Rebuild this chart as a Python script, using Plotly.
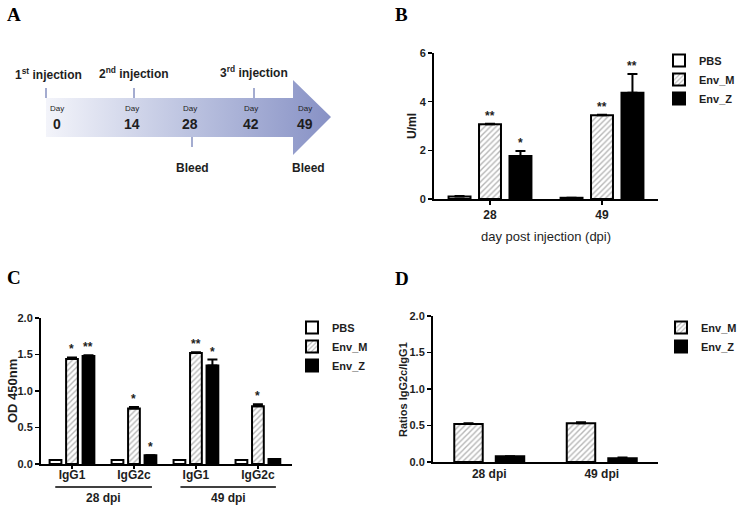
import plotly.graph_objects as go

W, H = 737, 507
FONT = "Liberation Sans, Arial, sans-serif"
SERIF = "Liberation Serif, Times New Roman, serif"
TXT = "#1e1e1e"

# ---------------- data ----------------
# Panel A timeline
timeline_days = ["0", "14", "28", "42", "49"]
injection_labels = ["1<sup>st</sup> injection", "2<sup>nd</sup> injection", "3<sup>rd</sup> injection"]
bleed_labels = ["Bleed", "Bleed"]

# Panel B: total antibody (U/ml)
b_categories = ["28", "49"]
b_pbs = [0.10, 0.05]
b_pbs_err = [0.02, 0.0]
b_envm = [3.07, 3.44]
b_envm_err = [0.02, 0.02]
b_envz = [1.77, 4.37]
b_envz_err = [0.20, 0.77]
b_stars_pbs = ["", ""]
b_stars_envm = ["**", "**"]
b_stars_envz = ["*", "**"]

# Panel C: IgG subclasses (OD 450nm)
c_categories = ["IgG1", "IgG2c", "IgG1", "IgG2c"]
c_groups = ["28 dpi", "49 dpi"]
c_pbs = [0.055, 0.055, 0.055, 0.055]
c_pbs_err = [0.0, 0.0, 0.0, 0.0]
c_envm = [1.44, 0.76, 1.52, 0.79]
c_envm_err = [0.02, 0.02, 0.01, 0.03]
c_envz = [1.48, 0.12, 1.35, 0.07]
c_envz_err = [0.01, 0.0, 0.08, 0.0]
c_stars_pbs = ["", "", "", ""]
c_stars_envm = ["*", "*", "**", "*"]
c_stars_envz = ["**", "*", "*", ""]

# Panel D: IgG2c/IgG1 ratio
d_categories = ["28 dpi", "49 dpi"]
d_envm = [0.52, 0.53]
d_envm_err = [0.01, 0.015]
d_envz = [0.08, 0.05]
d_envz_err = [0.0, 0.01]

# ---------------- helpers ----------------
def px(x):
    return x / W

def py(y):
    return 1 - y / H

HATCH = dict(shape="/", fgcolor="#6e6e6e", bgcolor="white", size=4, solidity=0.35, fillmode="overlay")
STYLES = {
    "PBS": dict(color="white", pattern=None),
    "Env_M": dict(color="white", pattern=HATCH),
    "Env_Z": dict(color="black", pattern=None),
}

fig = go.Figure()
annotations = []
shapes = []


def label(x, y, text, xref="paper", yref="paper", size=12, bold=True, family=FONT, angle=0, color=TXT):
    font = dict(family=family, size=size, color=color)
    if bold:
        font["weight"] = "bold"
    annotations.append(dict(x=x, y=y, xref=xref, yref=yref, text=text, showarrow=False,
                            xanchor="center", yanchor="middle", textangle=angle, font=font))


def add_bars(name, cats, vals, errs, stars, width, offset, xa, ya, legend):
    idx = list(range(len(cats)))
    st = STYLES[name]
    marker = dict(color=st["color"], line=dict(color="black", width=2))
    if st["pattern"]:
        marker["pattern"] = st["pattern"]
    fig.add_trace(go.Bar(
        x=idx, y=vals, name=name, width=width, offset=offset,
        xaxis=xa, yaxis=ya, legend=legend, marker=marker,
        error_y=dict(type="data", array=errs, arrayminus=[0] * len(errs), symmetric=False,
                     color="black", thickness=2, width=5),
        hoverinfo="skip",
    ))
    for i, (v, e, s) in enumerate(zip(vals, errs, stars)):
        if s:
            annotations.append(dict(
                x=i + offset + width / 2, y=v + e, xref=xa, yref=ya,
                text=s, showarrow=False, xanchor="center", yanchor="bottom", yshift=-1,
                font=dict(family=FONT, size=12, color=TXT, weight="bold"),
            ))


# Panel B bars
bw, boffs = 0.196, [-0.37, -0.098, 0.174]
add_bars("PBS", b_categories, b_pbs, b_pbs_err, b_stars_pbs, bw, boffs[0], "x", "y", "legend")
add_bars("Env_M", b_categories, b_envm, b_envm_err, b_stars_envm, bw, boffs[1], "x", "y", "legend")
add_bars("Env_Z", b_categories, b_envz, b_envz_err, b_stars_envz, bw, boffs[2], "x", "y", "legend")

# Panel C bars
cw, coffs = 0.19, [-0.361, -0.095, 0.171]
add_bars("PBS", c_categories, c_pbs, c_pbs_err, c_stars_pbs, cw, coffs[0], "x2", "y2", "legend2")
add_bars("Env_M", c_categories, c_envm, c_envm_err, c_stars_envm, cw, coffs[1], "x2", "y2", "legend2")
add_bars("Env_Z", c_categories, c_envz, c_envz_err, c_stars_envz, cw, coffs[2], "x2", "y2", "legend2")

# Panel D bars
dw, doffs = 0.253, [-0.311, 0.058]
add_bars("Env_M", d_categories, d_envm, d_envm_err, ["", ""], dw, doffs[0], "x3", "y3", "legend3")
add_bars("Env_Z", d_categories, d_envz, d_envz_err, ["", ""], dw, doffs[1], "x3", "y3", "legend3")

# ---------------- Panel A: timeline schematic ----------------
arrow_x = [46, 293, 293, 331, 293, 293, 46, 46]
arrow_y = [98, 98, 80, 117, 155, 137, 137, 98]
fig.add_trace(go.Scatter(
    x=arrow_x, y=arrow_y, xaxis="x4", yaxis="y4", mode="lines", fill="toself",
    line=dict(width=0, color="rgba(0,0,0,0)"), showlegend=False, hoverinfo="skip",
    fillgradient=dict(type="horizontal", colorscale=[[0, "#f3f4fa"], [0.5, "#bcc3e0"], [1, "#8791c5"]]),
))
tick_color = "#a4acd0"
for tx in [46, 134, 254]:
    shapes.append(dict(type="line", xref="x4", yref="y4", x0=tx, x1=tx, y0=88, y1=98,
                       line=dict(color=tick_color, width=2)))
shapes.append(dict(type="line", xref="x4", yref="y4", x0=192, x1=192, y0=137, y1=147,
                   line=dict(color=tick_color, width=2)))

inj_pos = [(48, 74), (134, 73), (254, 72)]
for lab, (x, y) in zip(injection_labels, inj_pos):
    label(x, y, lab, "x4", "y4", size=12)
day_x = [57, 132, 190, 251, 305]
for d, x in zip(timeline_days, day_x):
    label(x, 108, "Day", "x4", "y4", size=8, bold=False)
    label(x, 124, d, "x4", "y4", size=14)
for lab, x in zip(bleed_labels, [192, 308]):
    label(x, 168, lab, "x4", "y4", size=12)

# ---------------- panel letters ----------------
for letter, (x, y) in zip("ABCD", [(14, 14), (402, 14), (14, 277), (402, 278)]):
    label(px(x), py(y), letter, size=19, family=SERIF, color="black")

# ---------------- axis titles ----------------
label(px(546), py(237), "day post injection (dpi)", size=13, bold=False)
label(px(412), py(126), "U/ml", size=12, angle=-90)
label(px(12), py(391), "OD 450nm", size=13, angle=-90)
label(px(403), py(389), "Ratios IgG2c/IgG1", size=11, angle=-90)

# Panel C group labels
for g, (x0, x1) in zip(c_groups, [(-0.27, 1.29), (1.75, 3.29)]):
    shapes.append(dict(type="line", xref="x2", yref="paper", x0=x0, x1=x1, y0=py(487), y1=py(487),
                       line=dict(color="black", width=1.5)))
    label((x0 + x1) / 2, py(498), g, "x2", "paper", size=12)

# ---------------- axes ----------------
xtickfont = dict(family=FONT, size=12, color=TXT, weight="bold")
ytickfont = dict(family=FONT, size=11, color=TXT, weight="bold")
common = dict(showline=True, linewidth=2, linecolor="black", showgrid=False, zeroline=False,
              ticks="outside", ticklen=4, tickwidth=1.5, tickcolor="black", fixedrange=True)

legend_common = dict(font=dict(family=FONT, size=11, color=TXT, weight="bold"), bgcolor="rgba(0,0,0,0)",
                     xanchor="left", yanchor="top", tracegroupgap=0, itemclick=False)

fig.update_layout(
    width=W, height=H, margin=dict(l=0, r=0, t=0, b=0, autoexpand=False),
    paper_bgcolor="white", plot_bgcolor="white", barmode="overlay",
    showlegend=True,
    xaxis=dict(domain=[px(434), px(658)], range=[-0.5, 1.5], tickvals=[0, 1], ticktext=b_categories,
               anchor="y", tickfont=xtickfont, **common),
    yaxis=dict(domain=[py(199), py(53)], range=[0, 6], dtick=2, anchor="x", tickfont=ytickfont, **common),
    xaxis2=dict(domain=[px(41), px(292)], range=[-0.5, 3.55], tickvals=[0, 1, 2, 3], ticktext=c_categories,
                anchor="y2", tickfont=xtickfont, ticklabelstandoff=-4, **{**common, "ticklen": 3}),
    yaxis2=dict(domain=[py(464), py(318)], range=[0, 2], dtick=0.5, tickformat=".1f", anchor="x2",
                tickfont=ytickfont, **common),
    xaxis3=dict(domain=[px(433), px(658)], range=[-0.5, 1.5], tickvals=[0, 1], ticktext=d_categories,
                anchor="y3", tickfont=xtickfont, **{**common, "ticks": ""}),
    yaxis3=dict(domain=[py(462), py(316)], range=[0, 2], dtick=0.5, tickformat=".1f", anchor="x3",
                tickfont=ytickfont, **common),
    xaxis4=dict(domain=[0, px(360)], range=[0, 360], visible=False, fixedrange=True, anchor="y4"),
    yaxis4=dict(domain=[py(200), 1], range=[200, 0], visible=False, fixedrange=True, anchor="x4"),
    legend=dict(x=px(659), y=py(46), **legend_common),
    legend2=dict(x=px(292), y=py(313), **legend_common),
    legend3=dict(x=px(661), y=py(313), **legend_common),
    annotations=annotations,
    shapes=shapes,
)

fig.write_html("out.html", config={"displayModeBar": False, "staticPlot": True},
               post_script="document.body.style.margin='0';document.body.style.overflow='hidden';")
